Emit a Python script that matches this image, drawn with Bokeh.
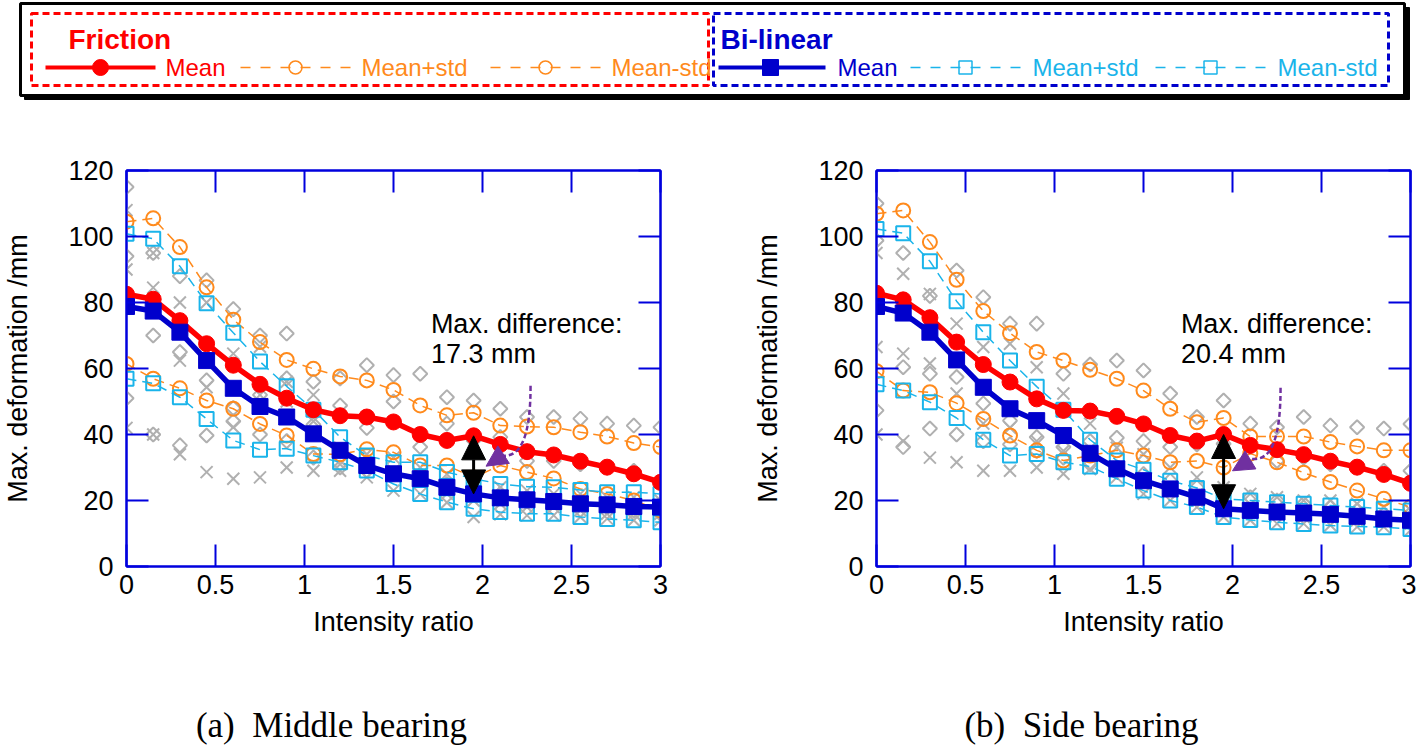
from math import pi
from bokeh.plotting import figure
from bokeh.layouts import column, row
from bokeh.models import (Range1d, LinearAxis, FixedTicker, CustomJSTickFormatter,
                          Label, Arrow, NormalHead)
from bokeh.core.properties import value
from bokeh.embed import file_html
from bokeh.resources import INLINE

# ---------------- data ----------------
INTENSITY = [0.0, 0.15, 0.3, 0.45, 0.6, 0.75, 0.9, 1.05, 1.2, 1.35, 1.5,
             1.65, 1.8, 1.95, 2.1, 2.25, 2.4, 2.55, 2.7, 2.85, 3.0]

# (a) Middle bearing
A_fric_mean = [82.5, 81.0, 74.5, 67.5, 61.0, 55.2, 51.0, 47.5, 45.7, 45.3, 43.8,
               40.0, 38.2, 39.6, 37.0, 34.8, 33.8, 31.9, 30.1, 28.1, 25.5]
A_fric_plus = [104.5, 105.5, 96.8, 84.6, 74.8, 68.0, 62.6, 59.9, 57.6, 56.4, 53.5,
               48.8, 45.8, 46.6, 42.7, 42.4, 42.2, 40.7, 39.4, 37.4, 36.2]
A_fric_minus = [61.4, 56.9, 54.0, 50.3, 47.8, 43.2, 39.7, 34.1, 34.0, 35.5, 34.6,
                30.6, 30.6, 27.0, 30.6, 28.6, 26.7, 23.5, 22.0, 20.0, 17.0]
A_bil_mean = [78.8, 77.4, 71.0, 62.4, 54.0, 48.5, 45.3, 40.2, 35.2, 30.6, 28.1,
              26.6, 24.0, 22.0, 20.8, 20.2, 19.7, 19.0, 18.7, 18.2, 18.0]
A_bil_plus = [100.8, 99.3, 91.0, 79.8, 70.8, 62.1, 54.6, 47.5, 39.2, 33.6, 31.6,
              31.6, 28.6, 26.6, 25.0, 24.2, 24.0, 23.2, 22.5, 22.5, 22.0]
A_bil_minus = [56.9, 55.5, 51.3, 44.7, 38.2, 35.4, 35.7, 33.6, 31.6, 29.1, 25.0,
               22.0, 19.5, 17.5, 16.5, 16.0, 16.0, 15.0, 14.4, 14.0, 13.4]
A_rec_dia_hi = [115, 95, 88, 86.7, 78, 70, 70.6, 56, 57, 61, 58,
                58.4, 51.3, 50.3, 47.8, 45.3, 45.3, 44.8, 43.3, 42.7, 42.2]
A_rec_dia_mid = [94, 70, 65, 56.4, 48, 52, 57, 43, 48.8, 42, 50,
                 36.2, 43.3, 38.2, 39.2, 32, 32, 31, 30, 29, 25]
A_rec_dia_lo = [51, 40, 36.7, 39.7, 44, 40, 38, 33, 30, 29, 28,
                27, 25, 23, 22, 21, 20, 19, 18, 17, 16]
A_rec_x_hi = [108, 95, 80, 80, 64.5, 66.6, 56, 52, 36, 34, 33,
              30, 28, 25, 24, 23, 22, 22, 21, 21, 20]
A_rec_x_mid = [90, 84.5, 62.4, 54.3, 42.2, 52, 50, 44, 31, 30.3, 29,
               26, 22, 20, 19, 18, 18, 17, 16, 16, 16]
A_rec_x_lo = [42, 40, 34, 28.6, 26.6, 27, 30, 29, 29, 27, 23,
              22, 19.4, 15, 15.8, 15.5, 15.5, 15, 14.5, 14, 14]

# (b) Side bearing
B_fric_mean = [82.8, 80.8, 75.4, 68.0, 61.2, 55.9, 50.8, 47.3, 47.1, 45.5, 43.2,
               39.7, 38.0, 40.0, 36.7, 35.4, 33.9, 31.9, 30.1, 27.9, 25.2]
B_fric_plus = [106.9, 107.9, 98.3, 86.9, 77.4, 70.7, 65.0, 62.4, 59.6, 56.9, 53.3,
               47.8, 43.7, 45.0, 39.4, 39.4, 39.4, 37.7, 36.4, 35.2, 35.2]
B_fric_minus = [59.2, 53.3, 52.8, 49.5, 44.7, 39.7, 35.2, 32.1, 33.6, 35.2, 33.6,
                31.6, 32.0, 30.0, 34.2, 31.6, 28.4, 25.6, 23.0, 20.5, 18.0]
B_bil_mean = [78.8, 76.8, 71.0, 62.6, 54.3, 47.8, 44.2, 39.7, 34.3, 29.6, 26.0,
              23.5, 21.0, 17.5, 17.0, 16.5, 16.2, 15.8, 15.2, 14.4, 14.0]
B_bil_plus = [102.3, 101.0, 92.5, 80.4, 71.0, 62.4, 54.5, 47.5, 38.4, 32.1, 29.3,
              26.0, 23.8, 20.5, 20.0, 19.5, 19.0, 18.5, 18.0, 17.5, 17.0]
B_bil_minus = [55.2, 53.3, 49.8, 45.0, 38.4, 33.6, 34.1, 31.6, 30.3, 26.6, 23.0,
               20.0, 18.0, 15.0, 14.1, 13.4, 12.9, 12.4, 12.1, 11.9, 11.4]
B_rec_dia_hi = [110, 95, 82, 89.7, 81.6, 73.6, 73.6, 58.4, 61.2, 62.4, 59.4,
                52.4, 45.3, 50.3, 43.3, 42.2, 45.3, 42.7, 42.2, 41.8, 43.2]
B_rec_dia_mid = [98.8, 60.4, 58.4, 57.4, 49.4, 44.2, 39.2, 36.2, 38, 39, 38,
                 36.2, 37, 37.2, 36.2, 32, 33, 31, 30, 29, 29]
B_rec_dia_lo = [47.3, 36.2, 41.8, 40, 38, 37, 35, 33, 31, 30, 28,
                26, 24, 22, 21, 20, 19, 18, 17, 16, 16]
B_rec_x_hi = [95, 88.7, 82.6, 73.6, 66.5, 67.5, 60.4, 52.4, 43.3, 36, 34,
              30, 27, 24, 22, 21, 20, 20, 19, 18, 17]
B_rec_x_mid = [66.5, 64.5, 61.5, 52.4, 43.3, 42, 38, 35, 33, 30, 26,
               23, 20, 18, 17, 16, 15, 15, 14, 14, 13]
B_rec_x_lo = [40, 38, 33, 31.6, 29, 29, 30, 28.1, 29.5, 27, 22,
              20, 18, 15, 14, 13, 13, 12.5, 12, 12, 11]

X_TICKS = [0, 0.5, 1, 1.5, 2, 2.5, 3]
Y_TICKS = [0, 20, 40, 60, 80, 100, 120]
CAPTIONS = ["(a)\u00a0\u00a0Middle bearing", "(b)\u00a0\u00a0Side bearing"]
DIFF_TEXT = ["17.3 mm", "20.4 mm"]

# ---------------- style ----------------
RED = "#FF0000"
ORANGE = "#FF8A1C"
BLUE = "#0000CC"
CYAN = "#1AB4EA"
GRAY = "#B0B0B0"
PURPLE = "#7030A0"
FRAME = "#0000DD"
SANS = "Liberation Sans"
SERIF = "Liberation Serif"


def blank_formatter():
    return CustomJSTickFormatter(code="return ''")


def make_panel(d, diff_text, width, right_border):
    p = figure(width=width, height=550, output_backend="svg", toolbar_location=None,
               x_range=Range1d(0, 3), y_range=Range1d(0, 120),
               min_border_left=126, min_border_right=right_border,
               min_border_top=70, min_border_bottom=84)
    p.grid.visible = False
    p.outline_line_color = FRAME
    p.outline_line_width = 2
    p.background_fill_color = "white"
    p.border_fill_color = "white"

    for ax in (p.xaxis[0], p.yaxis[0]):
        ax.axis_line_color = FRAME
        ax.axis_line_width = 2
        ax.major_tick_line_color = FRAME
        ax.major_tick_line_width = 2
        ax.major_tick_in = 22
        ax.major_tick_out = 0
        ax.minor_tick_line_color = None
        ax.major_label_text_font = SANS
        ax.major_label_text_font_size = "27px"
        ax.major_label_text_color = "black"
        ax.axis_label_text_font = SANS
        ax.axis_label_text_font_size = "27px"
        ax.axis_label_text_font_style = "normal"
        ax.axis_label_text_color = "black"
    p.xaxis[0].ticker = FixedTicker(ticks=X_TICKS)
    p.yaxis[0].ticker = FixedTicker(ticks=Y_TICKS)
    p.xaxis[0].axis_label = "Intensity ratio"
    p.yaxis[0].axis_label = "Max. deformation /mm"
    p.xaxis[0].major_label_standoff = 8
    p.xaxis[0].axis_label_standoff = 10
    p.yaxis[0].major_label_standoff = 13
    p.yaxis[0].axis_label_standoff = 32

    for loc, ticks in (("above", X_TICKS), ("right", Y_TICKS)):
        ax = LinearAxis(ticker=FixedTicker(ticks=ticks), formatter=blank_formatter(),
                        axis_line_color=FRAME, axis_line_width=2,
                        major_tick_line_color=FRAME, major_tick_line_width=2,
                        major_tick_in=22, major_tick_out=0, minor_tick_line_color=None,
                        major_label_standoff=0)
        p.add_layout(ax, loc)

    x = INTENSITY
    # individual records (gray)
    for ys in (d["dia_hi"], d["dia_mid"], d["dia_lo"]):
        p.scatter(x, ys, marker="square", angle=pi / 4, size=10, fill_color=None,
                  line_color=GRAY, line_width=2)
    for ys in (d["x_hi"], d["x_mid"], d["x_lo"]):
        p.scatter(x, ys, marker="x", size=17, line_color=GRAY, line_width=2)

    # mean +/- std
    for ys in (d["fric_plus"], d["fric_minus"]):
        p.line(x, ys, line_color=ORANGE, line_width=1.5, line_dash="10 6")
        p.scatter(x, ys, marker="circle", size=14, fill_color=None,
                  line_color=ORANGE, line_width=2)
    for ys in (d["bil_plus"], d["bil_minus"]):
        p.line(x, ys, line_color=CYAN, line_width=1.5, line_dash="10 6")
        p.scatter(x, ys, marker="square", size=14, fill_color=None,
                  line_color=CYAN, line_width=2)

    # means
    p.line(x, d["fric_mean"], line_color=RED, line_width=5.5)
    p.scatter(x, d["fric_mean"], marker="circle", size=16, fill_color=RED, line_color=RED)
    p.line(x, d["bil_mean"], line_color=BLUE, line_width=5.5)
    p.scatter(x, d["bil_mean"], marker="square", size=16, fill_color=BLUE, line_color=BLUE)

    # max difference arrow at x = 1.95
    i = 13
    p.add_layout(Arrow(x_start=x[i], y_start=d["bil_mean"][i], x_end=x[i], y_end=d["fric_mean"][i],
                       line_color="black", line_width=3,
                       start=NormalHead(size=24, fill_color="black", line_color="black"),
                       end=NormalHead(size=24, fill_color="black", line_color="black")))

    # dashed purple pointer
    c = d["curve"]
    p.bezier(x0=[c[0]], y0=[c[1]], x1=[c[2]], y1=[c[3]],
             cx0=[c[4]], cy0=[c[5]], cx1=[c[6]], cy1=[c[7]],
             line_color=PURPLE, line_width=2.5, line_dash="5 3")
    p.add_layout(Arrow(x_start=c[2], y_start=c[3], x_end=c[8], y_end=c[9],
                       line_alpha=0,
                       end=NormalHead(size=21, fill_color=PURPLE, line_color=PURPLE)))

    p.add_layout(Label(x=1.71, y=73.6, text="Max. difference:", text_font=SANS,
                       text_font_size="27px", text_baseline="middle", text_color="black"))
    p.add_layout(Label(x=1.71, y=64.4, text=diff_text, text_font=SANS,
                       text_font_size="27px", text_baseline="middle", text_color="black"))
    return p


A = dict(fric_mean=A_fric_mean, fric_plus=A_fric_plus, fric_minus=A_fric_minus,
         bil_mean=A_bil_mean, bil_plus=A_bil_plus, bil_minus=A_bil_minus,
         dia_hi=A_rec_dia_hi, dia_mid=A_rec_dia_mid, dia_lo=A_rec_dia_lo,
         x_hi=A_rec_x_hi, x_mid=A_rec_x_mid, x_lo=A_rec_x_lo,
         curve=[2.27, 54.8, 2.11, 33.6, 2.27, 40.0, 2.22, 33.0, 2.02, 30.4])
B = dict(fric_mean=B_fric_mean, fric_plus=B_fric_plus, fric_minus=B_fric_minus,
         bil_mean=B_bil_mean, bil_plus=B_bil_plus, bil_minus=B_bil_minus,
         dia_hi=B_rec_dia_hi, dia_mid=B_rec_dia_mid, dia_lo=B_rec_dia_lo,
         x_hi=B_rec_x_hi, x_mid=B_rec_x_mid, x_lo=B_rec_x_lo,
         curve=[2.27, 54.2, 2.11, 32.6, 2.27, 39.0, 2.22, 32.0, 2.0, 29.0])

pa = make_panel(A, DIFF_TEXT[0], 750, 90)
pb = make_panel(B, DIFF_TEXT[1], 666, 6)

# ---------------- legend banner (page-pixel coordinates) ----------------
lg = figure(width=1416, height=100, output_backend="svg", toolbar_location=None,
            x_range=Range1d(0, 1416), y_range=Range1d(100, 0),
            x_axis_type=None, y_axis_type=None, min_border=0)
lg.grid.visible = False
lg.outline_line_color = None
lg.background_fill_color = "white"
lg.border_fill_color = "white"

lg.quad(left=[24], right=[1409], top=[7], bottom=[99], fill_color="black", line_color="black")
lg.quad(left=[20], right=[1404], top=[3], bottom=[95], fill_color="white",
        line_color="black", line_width=3)
lg.quad(left=[31], right=[708], top=[13], bottom=[85], fill_color=None,
        line_color=RED, line_width=3, line_dash="7 4")
lg.quad(left=[713], right=[1388], top=[13], bottom=[85], fill_color=None,
        line_color=BLUE, line_width=3, line_dash="7 4")

lg.text(x=[68], y=[39], text=["Friction"], text_font=value(SANS), text_font_size="28px",
        text_font_style="bold", text_color=RED, text_baseline="middle")
lg.text(x=[720], y=[39], text=["Bi-linear"], text_font=value(SANS), text_font_size="28px",
        text_font_style="bold", text_color=BLUE, text_baseline="middle")

ry = 67
lg.line([45, 155], [ry, ry], line_color=RED, line_width=4)
lg.scatter([100], [ry], marker="circle", size=16, fill_color=RED, line_color=RED)
lg.text(x=[165], y=[ry], text=["Mean"], text_font=value(SANS), text_font_size="24px",
        text_color=RED, text_baseline="middle")
for x0, lab in ((240, "Mean+std"), (490, "Mean-std")):
    lg.line([x0, x0 + 110], [ry, ry], line_color=ORANGE, line_width=1.5, line_dash="10 10")
    lg.scatter([x0 + 55], [ry], marker="circle", size=13, fill_color=None,
               line_color=ORANGE, line_width=1.5)
    lg.text(x=[x0 + 121], y=[ry], text=[lab], text_font=value(SANS), text_font_size="24px",
            text_color=ORANGE, text_baseline="middle")
lg.line([718, 825], [ry, ry], line_color=BLUE, line_width=4)
lg.scatter([770], [ry], marker="square", size=16, fill_color=BLUE, line_color=BLUE)
lg.text(x=[837], y=[ry], text=["Mean"], text_font=value(SANS), text_font_size="24px",
        text_color=BLUE, text_baseline="middle")
for x0, lab in ((910, "Mean+std"), (1155, "Mean-std")):
    lg.line([x0, x0 + 110], [ry, ry], line_color=CYAN, line_width=1.5, line_dash="10 10")
    lg.scatter([x0 + 55], [ry], marker="square", size=13, fill_color=None,
               line_color=CYAN, line_width=1.5)
    lg.text(x=[x0 + 122], y=[ry], text=[lab], text_font=value(SANS), text_font_size="24px",
            text_color=CYAN, text_baseline="middle")

# ---------------- captions ----------------
cap = figure(width=1416, height=102, output_backend="svg", toolbar_location=None,
             x_range=Range1d(0, 1416), y_range=Range1d(752, 650),
             x_axis_type=None, y_axis_type=None, min_border=0)
cap.grid.visible = False
cap.outline_line_color = None
cap.background_fill_color = "white"
cap.border_fill_color = "white"
cap.text(x=[331, 1081], y=[725, 725], text=CAPTIONS, text_font=value(SERIF),
         text_font_size="35px", text_align="center", text_baseline="middle",
         text_color="black")

layout = column(lg, row(pa, pb, spacing=0), cap, spacing=0)
open("out.html", "w").write(file_html(layout, INLINE))
